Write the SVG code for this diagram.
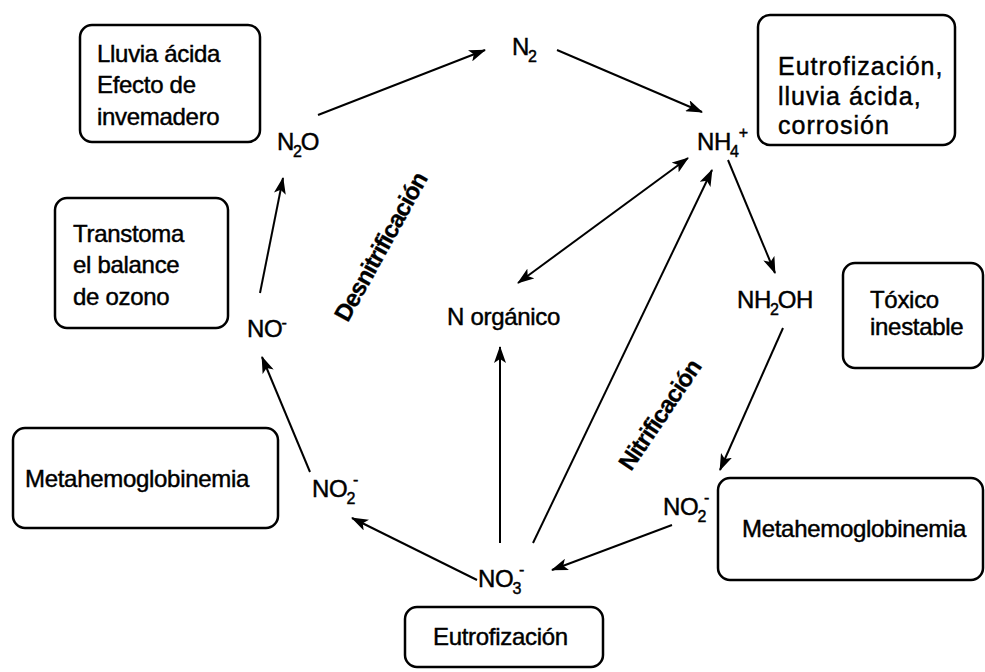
<svg xmlns="http://www.w3.org/2000/svg" width="985" height="672" viewBox="0 0 985 672">
<defs>
<style>
text{font-family:"Liberation Sans",Arial,sans-serif;font-size:24px;fill:#000;stroke:#000;stroke-width:0.45px;letter-spacing:-0.3px}
.box{fill:#fff;stroke:#000;stroke-width:2.5}
.sub{font-size:16px}
.lbl{font-weight:bold;font-size:24px;letter-spacing:-0.9px;stroke-width:0.3px}
.wide{font-size:25px;letter-spacing:1px}
.conn line{stroke:#000;stroke-width:2;marker-end:url(#ah)}
</style>
<marker id="ah" markerUnits="userSpaceOnUse" markerWidth="18" markerHeight="12" refX="16" refY="6" orient="auto-start-reverse">
<path d="M0,0 L17,6 L0,12 L4,6 z" fill="#000"/>
</marker>
</defs>
<rect width="985" height="672" fill="#fff"/>

<g id="box-lluvia">
<rect class="box" x="80" y="25" width="180" height="117" rx="12"/>
<text x="97" y="62">Lluvia ácida</text>
<text x="97" y="93">Efecto de</text>
<text x="97" y="125">invemadero</text>
</g>
<g id="box-eutro-top">
<rect class="box" x="758" y="15" width="197" height="130" rx="12"/>
<text class="wide" x="778" y="75">Eutrofización,</text>
<text class="wide" x="778" y="105">lluvia ácida,</text>
<text class="wide" x="778" y="134">corrosión</text>
</g>
<g id="box-ozono">
<rect class="box" x="55" y="198" width="173" height="130" rx="12"/>
<text x="73" y="242">Transtoma</text>
<text x="73" y="273">el balance</text>
<text x="73" y="305">de ozono</text>
</g>
<g id="box-toxico">
<rect class="box" x="843" y="263" width="140" height="105" rx="12"/>
<text x="870" y="308">Tóxico</text>
<text x="870" y="335">inestable</text>
</g>
<g id="box-meta-left">
<rect class="box" x="13" y="428" width="265" height="100" rx="12"/>
<text x="25" y="487">Metahemoglobinemia</text>
</g>
<g id="box-meta-right">
<rect class="box" x="718" y="478" width="265" height="102" rx="12"/>
<text x="742" y="537">Metahemoglobinemia</text>
</g>
<g id="box-eutro-bottom">
<rect class="box" x="405" y="607" width="198" height="60" rx="12"/>
<text x="433" y="645">Eutrofización</text>
</g>

<g id="n2"><text x="512" y="55">N<tspan class="sub" dx="-1" dy="7">2</tspan></text></g>
<g id="nh4"><text x="697" y="150">NH<tspan class="sub" dx="-1" dy="7">4</tspan><tspan class="sub" dy="-19">+</tspan></text></g>
<g id="n2o"><text x="277" y="150">N<tspan class="sub" dx="-1" dy="7">2</tspan><tspan dx="-1" dy="-7">O</tspan></text></g>
<g id="no"><text x="247" y="337">NO<tspan class="sub" dx="-1" dy="-9">-</tspan></text></g>
<g id="no2-left"><text x="312" y="497">NO<tspan class="sub" dx="-1" dy="7">2</tspan><tspan class="sub" dx="-2" dy="-19">-</tspan></text></g>
<g id="no3"><text x="478" y="587">NO<tspan class="sub" dx="-1" dy="7">3</tspan><tspan class="sub" dx="-2" dy="-19">-</tspan></text></g>
<g id="no2-right"><text x="663" y="515">NO<tspan class="sub" dx="-1" dy="7">2</tspan><tspan class="sub" dx="-2" dy="-19">-</tspan></text></g>
<g id="nh2oh"><text x="737" y="308">NH<tspan class="sub" dx="-1" dy="7">2</tspan><tspan dx="-1" dy="-7">OH</tspan></text></g>
<g id="norg"><text x="447" y="325">N orgánico</text></g>

<g id="lbl-desn"><text class="lbl" transform="translate(381,247) rotate(-61)" x="0" y="8" text-anchor="middle">Desnitrificación</text></g>
<g id="lbl-nitr"><text class="lbl" transform="translate(660,415) rotate(-56)" x="0" y="8" text-anchor="middle">Nitrificación</text></g>

<g id="connectors" class="conn">
<line x1="318" y1="115" x2="485" y2="50"/>
<line x1="557" y1="50" x2="702" y2="112"/>
<line x1="728" y1="160" x2="775" y2="273"/>
<line x1="783" y1="328" x2="720" y2="470"/>
<line x1="672" y1="525" x2="552" y2="570"/>
<line x1="477" y1="580" x2="352" y2="518"/>
<line x1="310" y1="472" x2="262" y2="357"/>
<line x1="260" y1="293" x2="283" y2="178"/>
<line x1="500" y1="543" x2="500" y2="347"/>
<line x1="533" y1="543" x2="712" y2="170"/>
<line x1="688" y1="158" x2="518" y2="283" style="marker-start:url(#ah)"/>
</g>
</svg>
